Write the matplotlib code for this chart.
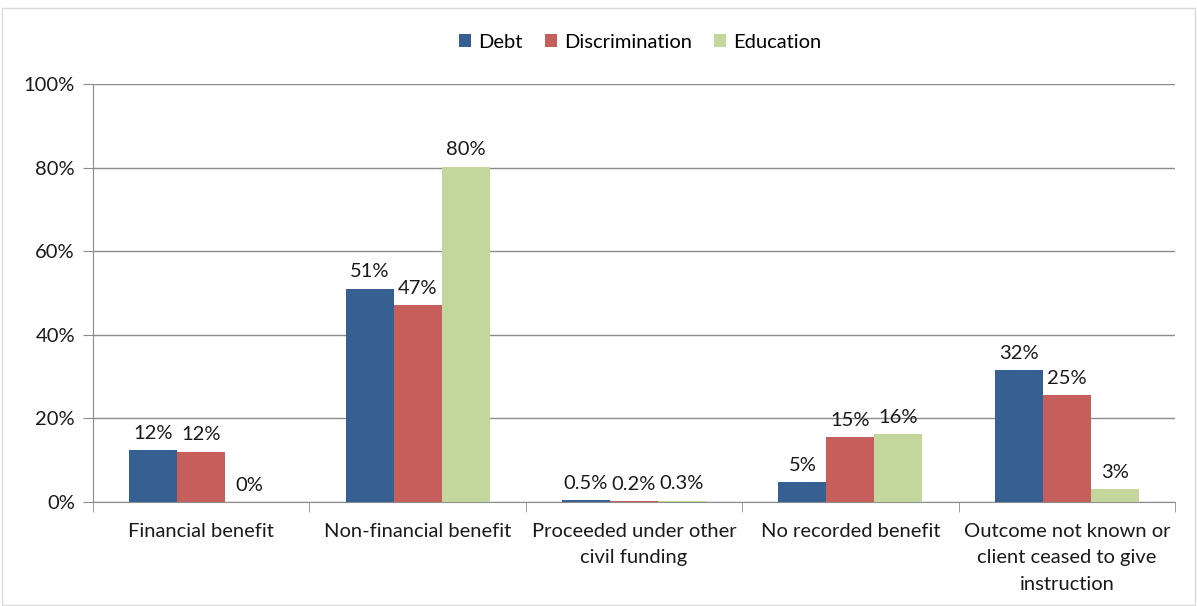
import numpy as np
import matplotlib
matplotlib.use('Agg')
import matplotlib.pyplot as plt
from matplotlib.patches import Rectangle

# Data
categories = ['Financial benefit', 'Non-financial benefit', 'Proceeded under other\ncivil funding',
              'No recorded benefit', 'Outcome not known or\nclient ceased to give\ninstruction']
series_names = ['Debt', 'Discrimination', 'Education']
debt = [12.4, 51.0, 0.5, 4.8, 31.6]
discrimination = [12.0, 47.1, 0.2, 15.5, 25.5]
education = [0.0, 80.2, 0.3, 16.3, 3.1]
debt_labels = ['12%', '51%', '0.5%', '5%', '32%']
discrimination_labels = ['12%', '47%', '0.2%', '15%', '25%']
education_labels = ['0%', '80%', '0.3%', '16%', '3%']

colors = ['#376092', '#C65E5B', '#C3D69B']
plt.rcParams['font.family'] = ['Lato', 'DejaVu Sans']
fs = 14.5

fig = plt.figure(figsize=(11.97, 6.06), dpi=100)
ax = fig.add_axes([93/1197, 104/606, (1175-93)/1197, (502-84)/606])

x = np.arange(len(categories))
w = 0.222
all_vals = [debt, discrimination, education]
all_labels = [debt_labels, discrimination_labels, education_labels]
for i, (vals, labs) in enumerate(zip(all_vals, all_labels)):
    pos = x + (i - 1) * w
    ax.bar(pos, vals, width=w, color=colors[i], label=series_names[i], zorder=3)
    for p, v, t in zip(pos, vals, labs):
        ax.text(p, v + 2.0, t, ha='center', va='bottom', fontsize=fs, color='#1a1a1a')

ax.set_xlim(-0.5, len(categories) - 0.5)
ax.set_ylim(0, 100)
ax.set_yticks(range(0, 101, 20))
ax.set_yticklabels([f'{v}%' for v in range(0, 101, 20)], fontsize=fs, color='#1a1a1a')
ax.yaxis.grid(True, color='#8c8c8c', linewidth=1, zorder=0)
ax.tick_params(axis='y', length=7, color='#8c8c8c', pad=6)

ax.set_xticks(x)
ax.set_xticklabels(categories, fontsize=fs, color='#1a1a1a', linespacing=1.68, va='top')
ax.tick_params(axis='x', which='major', length=0, pad=15)
ax.set_xticks(np.arange(-0.5, len(categories)), minor=True)
ax.tick_params(axis='x', which='minor', length=7, color='#8c8c8c')

for s in ['top', 'right']:
    ax.spines[s].set_visible(False)
for s in ['left', 'bottom']:
    ax.spines[s].set_color('#8c8c8c')

fig.legend(loc='center', bbox_to_anchor=(0.535, 1 - 42/606), ncol=3, frameon=False,
           fontsize=fs, handlelength=0.6, handleheight=0.6, handletextpad=0.35, columnspacing=1.1)

fig.patches.append(Rectangle((0.002, 0.002), 0.996, 0.985, transform=fig.transFigure,
                             fill=False, edgecolor='#d9d9d9', linewidth=1))

fig.savefig('out.png', dpi=100)
